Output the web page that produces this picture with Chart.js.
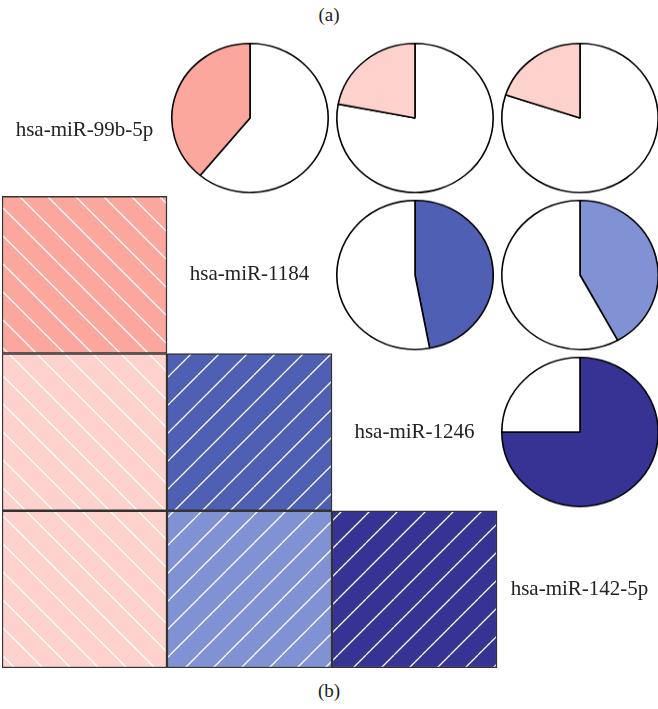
<!DOCTYPE html>
<html>
<head>
<meta charset="utf-8">
<script src="https://cdn.jsdelivr.net/npm/chart.js@4/dist/chart.umd.min.js"></script>
<style>
  html, body { margin: 0; padding: 0; background: #fff; overflow: hidden; }
  body { width: 658px; height: 709px; position: relative; }
  .cap { position: absolute; left: 0; width: 658px; text-align: center;
         font-family: "Liberation Serif", serif; font-size: 19px; color: #222; }
  .pie { position: absolute; }
  #grid { position: absolute; }
</style>
</head>
<body>
<div class="cap" style="top:4px">(a)</div>
<canvas id="grid"></canvas>
<div id="pies"></div>
<div class="cap" style="top:680px">(b)</div>

<script>
// miRNAs on the diagonal
const genes = ['hsa-miR-99b-5p', 'hsa-miR-1184', 'hsa-miR-1246', 'hsa-miR-142-5p'];

// pairwise correlations (upper triangle: row gene i, column gene j)
const pairRow  = [0, 0, 0, 1, 1, 2];
const pairCol  = [1, 2, 3, 2, 3, 3];
const pairCorr = [-0.39, -0.22, -0.20, 0.47, 0.42, 0.75];

// fill colour for each pair
const pairColor = ['#FCA79E', '#FDD1CC', '#FDD1CC', '#4F5FB3', '#8092D3', '#363394'];

// layout of the matrix
const LEFT = 2, TOP = 39, COLW = 165, ROWH = 157.25;
const N = genes.length;

function pairIndex(a, b) {
  const i = Math.min(a, b), j = Math.max(a, b);
  for (let k = 0; k < pairRow.length; k++) if (pairRow[k] === i && pairCol[k] === j) return k;
  return -1;
}

// diagonal hatch: '/' for positive, '\' for negative correlation
function hatch(color, positive) {
  const s = 28;
  const c = document.createElement('canvas');
  c.width = s; c.height = s;
  const g = c.getContext('2d');
  g.fillStyle = color;
  g.fillRect(0, 0, s, s);
  g.strokeStyle = '#ffffff';
  g.lineWidth = 1.3;
  g.beginPath();
  for (let k = -1; k <= 1; k++) {
    if (positive) { g.moveTo(k * s, s); g.lineTo(k * s + s, 0); }
    else { g.moveTo(k * s, 0); g.lineTo(k * s + s, s); }
  }
  g.stroke();
  return g.createPattern(c, 'repeat');
}

Chart.defaults.animation = false;

// ---- lower triangle: hatched squares as floating bars ----
const gridCanvas = document.getElementById('grid');
gridCanvas.width = COLW * N;
gridCanvas.height = Math.round(ROWH * N);
gridCanvas.style.left = LEFT + 'px';
gridCanvas.style.top = TOP + 'px';

const squareSets = [];
for (let r = 1; r < N; r++) {
  squareSets.push({
    data: genes.map((g, c) => c < r ? [r, r + 1] : null),
    backgroundColor: genes.map((g, c) => {
      if (c >= r) return 'rgba(0,0,0,0)';
      const k = pairIndex(c, r);
      return hatch(pairColor[k], pairCorr[k] > 0);
    }),
    borderColor: '#333333',
    borderWidth: 1.5,
    borderSkipped: false,
    barPercentage: 1,
    categoryPercentage: 1,
    grouped: false
  });
}

const diagLabels = {
  id: 'diagLabels',
  afterDatasetsDraw(chart) {
    const ctx = chart.ctx, xs = chart.scales.x, ys = chart.scales.y;
    const nudge = [13, 0, 0, 0];
    ctx.save();
    ctx.font = '21px "Liberation Serif", serif';
    ctx.fillStyle = '#222';
    ctx.textAlign = 'center';
    ctx.textBaseline = 'middle';
    genes.forEach((g, i) => {
      const x = xs.getPixelForValue(i);
      const y = (ys.getPixelForValue(i) + ys.getPixelForValue(i + 1)) / 2 + nudge[i];
      ctx.fillText(g, x, y);
    });
    ctx.restore();
  }
};

new Chart(gridCanvas, {
  type: 'bar',
  data: { labels: genes, datasets: squareSets },
  options: {
    responsive: false,
    events: [],
    layout: { padding: 0 },
    plugins: { legend: { display: false }, tooltip: { enabled: false } },
    scales: {
      x: { display: false, offset: true },
      y: { display: false, min: 0, max: N, reverse: true }
    }
  },
  plugins: [diagLabels]
});

// ---- upper triangle: pies ----
const pieHolder = document.getElementById('pies');
const PIE = 162;
pairCorr.forEach((v, k) => {
  const cx = LEFT + (pairCol[k] + 0.5) * COLW;
  const cy = TOP + (pairRow[k] + 0.5) * ROWH;
  const wrap = document.createElement('div');
  wrap.className = 'pie';
  wrap.style.left = (cx - PIE / 2) + 'px';
  wrap.style.top = (cy - PIE / 2) + 'px';
  wrap.style.width = PIE + 'px';
  wrap.style.height = PIE + 'px';
  wrap.style.transform = 'scaleY(' + (ROWH / COLW) + ')';
  const cv = document.createElement('canvas');
  cv.width = PIE; cv.height = PIE;
  wrap.appendChild(cv);
  pieHolder.appendChild(wrap);

  const a = Math.abs(v);
  const values = v > 0 ? [a, 1 - a] : [1 - a, a];
  const colors = v > 0 ? [pairColor[k], '#ffffff'] : ['#ffffff', pairColor[k]];
  new Chart(cv, {
    type: 'pie',
    data: { labels: ['r', 'rest'], datasets: [{
      data: values,
      backgroundColor: colors,
      borderColor: '#000000',
      borderWidth: 1.6
    }] },
    options: {
      responsive: false,
      events: [],
      layout: { padding: 2 },
      plugins: { legend: { display: false }, tooltip: { enabled: false } }
    }
  });
});
</script>
</body>
</html>
